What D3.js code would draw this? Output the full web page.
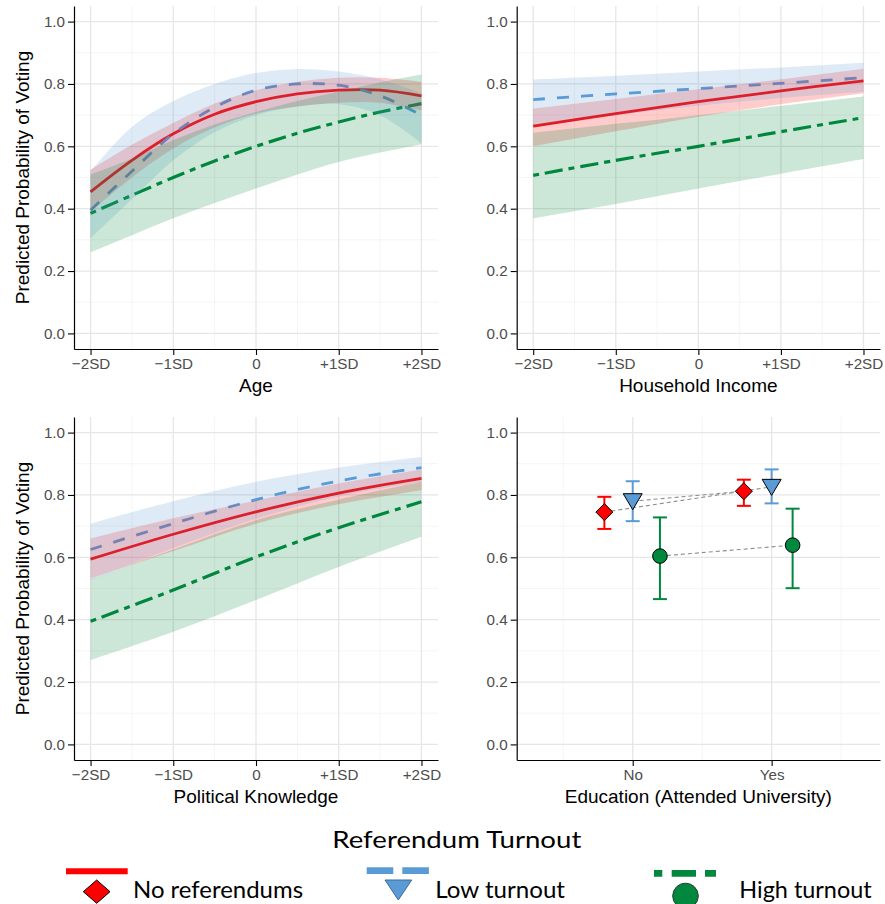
<!DOCTYPE html>
<html><head><meta charset="utf-8">
<script src="https://cdn.jsdelivr.net/npm/d3@7"></script>
<style>body{margin:0;background:#fff} svg{display:block}</style>
</head><body><svg id="c" width="885" height="904"></svg>
<script>
// ---------------- DATA ----------------
const seriesNames = ["No referendums", "Low turnout", "High turnout"];
const seriesColors = ["#FF0000", "#5B9BD5", "#00883E"];
const sdTicks = [-2, -1, 0, 1, 2];
const sdTickLabels = ["\u22122SD", "\u22121SD", "0", "+1SD", "+2SD"];
const yTicks = [0, 0.2, 0.4, 0.6, 0.8, 1.0];

// Age
const ageX = [-2, -1.5, -1, -0.5, 0, 0.5, 1, 1.5, 2];
const ageNoRef   = [0.454, 0.555, 0.640, 0.703, 0.743, 0.768, 0.780, 0.780, 0.762];
const ageNoRefLo = [0.390, 0.500, 0.593, 0.660, 0.705, 0.728, 0.740, 0.740, 0.715];
const ageNoRefHi = [0.525, 0.605, 0.675, 0.737, 0.780, 0.807, 0.820, 0.820, 0.807];
const ageLow     = [0.395, 0.520, 0.640, 0.725, 0.780, 0.800, 0.796, 0.762, 0.700];
const ageLowLo   = [0.305, 0.430, 0.555, 0.645, 0.700, 0.728, 0.735, 0.700, 0.610];
const ageLowHi   = [0.520, 0.662, 0.745, 0.800, 0.835, 0.848, 0.840, 0.815, 0.770];
const ageHigh    = [0.385, 0.443, 0.500, 0.553, 0.600, 0.642, 0.678, 0.710, 0.737];
const ageHighLo  = [0.260, 0.315, 0.369, 0.418, 0.465, 0.510, 0.550, 0.580, 0.607];
const ageHighHi  = [0.510, 0.560, 0.620, 0.670, 0.710, 0.745, 0.775, 0.805, 0.830];

// Household income
const incX = [-2, -1, 0, 1, 2];
const incNoRef   = [0.665, 0.705, 0.743, 0.778, 0.810];
const incNoRefLo = [0.600, 0.648, 0.695, 0.735, 0.770];
const incNoRefHi = [0.721, 0.752, 0.783, 0.815, 0.849];
const incLow     = [0.750, 0.768, 0.785, 0.802, 0.820];
const incLowLo   = [0.662, 0.700, 0.730, 0.755, 0.775];
const incLowHi   = [0.814, 0.826, 0.840, 0.853, 0.868];
const incHigh    = [0.507, 0.555, 0.600, 0.647, 0.692];
const incHighLo  = [0.369, 0.415, 0.465, 0.512, 0.559];
const incHighHi  = [0.643, 0.672, 0.700, 0.730, 0.760];

// Political knowledge
const knoX = [-2, -1, 0, 1, 2];
const knoNoRef   = [0.594, 0.674, 0.746, 0.806, 0.853];
const knoNoRefLo = [0.532, 0.620, 0.708, 0.770, 0.815];
const knoNoRefHi = [0.660, 0.725, 0.782, 0.837, 0.882];
const knoLow     = [0.625, 0.708, 0.785, 0.845, 0.888];
const knoLowLo   = [0.527, 0.630, 0.724, 0.795, 0.842];
const knoLowHi   = [0.708, 0.780, 0.842, 0.888, 0.922];
const knoHigh    = [0.395, 0.495, 0.601, 0.695, 0.778];
const knoHighLo  = [0.270, 0.361, 0.463, 0.569, 0.666];
const knoHighHi  = [0.529, 0.625, 0.719, 0.785, 0.842];

// Education (attended university)
const eduCategories = ["No", "Yes"];
const eduNoRefX = [0.796, 1.80],  eduNoRef = [0.745, 0.812], eduNoRefLo = [0.691, 0.765], eduNoRefHi = [0.794, 0.849];
const eduLowX   = [1.00, 2.00],   eduLow   = [0.780, 0.826], eduLowLo   = [0.716, 0.773], eduLowHi   = [0.844, 0.882];
const eduHighX  = [1.196, 2.151], eduHigh  = [0.604, 0.639], eduHighLo  = [0.466, 0.501], eduHighHi  = [0.728, 0.756];
const eduLinks = [[0, 1], [1, 0], [2, 2]]; // dashed connectors: "No" point of series a -> "Yes" point of series b

// ---------------- DRAWING ----------------
const svg = d3.select("#c");
const FONT = "'Liberation Sans', Arial, Helvetica, sans-serif";
const dashes = [null, "12,12", "6,6,18,6"];
const widths = [2.8, 2.8, 3.2];

function rows(xs, m, lo, hi) { return xs.map((x, i) => ({x, m: m[i], lo: lo[i], hi: hi[i]})); }

const panels = [
  {left: 74, right: 438, top: 6, bottom: 349, title: "Age", ylab: true, type: "line",
   series: [rows(ageX, ageNoRef, ageNoRefLo, ageNoRefHi), rows(ageX, ageLow, ageLowLo, ageLowHi), rows(ageX, ageHigh, ageHighLo, ageHighHi)]},
  {left: 516.7, right: 880, top: 6, bottom: 349, title: "Household Income", ylab: false, type: "line",
   series: [rows(incX, incNoRef, incNoRefLo, incNoRefHi), rows(incX, incLow, incLowLo, incLowHi), rows(incX, incHigh, incHighLo, incHighHi)]},
  {left: 74, right: 438, top: 417, bottom: 760, title: "Political Knowledge", ylab: true, type: "line",
   series: [rows(knoX, knoNoRef, knoNoRefLo, knoNoRefHi), rows(knoX, knoLow, knoLowLo, knoLowHi), rows(knoX, knoHigh, knoHighLo, knoHighHi)]},
  {left: 516.7, right: 880, top: 417, bottom: 760, title: "Education (Attended University)", ylab: false, type: "point",
   series: [rows(eduNoRefX, eduNoRef, eduNoRefLo, eduNoRefHi), rows(eduLowX, eduLow, eduLowLo, eduLowHi), rows(eduHighX, eduHigh, eduHighLo, eduHighHi)]}
];

panels.forEach(p => {
  const g = svg.append("g");
  const y = d3.scaleLinear().domain([-0.05, 1.05]).range([p.bottom, p.top]);
  let x, xMajor, xMinor, xLabels;
  if (p.type === "line") {
    x = d3.scaleLinear().domain([-2.2, 2.2]).range([p.left, p.right]);
    xMajor = sdTicks; xMinor = [-1.5, -0.5, 0.5, 1.5]; xLabels = sdTickLabels;
  } else {
    x = d3.scaleLinear().domain([0.165, 2.78]).range([p.left, p.right]);
    xMajor = [1, 2]; xMinor = [0.5, 1.5, 2.5]; xLabels = eduCategories;
  }
  const yMinor = [0.1, 0.3, 0.5, 0.7, 0.9];
  // grid
  const grid = g.append("g");
  grid.selectAll(".ymn").data(yMinor).join("line").attr("x1", p.left).attr("x2", p.right)
    .attr("y1", d => y(d)).attr("y2", d => y(d)).attr("stroke", "#f2f2f2").attr("stroke-width", 0.8);
  grid.selectAll(".xmn").data(xMinor).join("line").attr("y1", p.top).attr("y2", p.bottom)
    .attr("x1", d => x(d)).attr("x2", d => x(d)).attr("stroke", "#f2f2f2").attr("stroke-width", 0.8);
  grid.selectAll(".ymj").data(yTicks).join("line").attr("x1", p.left).attr("x2", p.right)
    .attr("y1", d => y(d)).attr("y2", d => y(d)).attr("stroke", "#e6e6e6").attr("stroke-width", 1.3);
  grid.selectAll(".xmj").data(xMajor).join("line").attr("y1", p.top).attr("y2", p.bottom)
    .attr("x1", d => x(d)).attr("x2", d => x(d)).attr("stroke", "#e6e6e6").attr("stroke-width", 1.3);

  if (p.type === "line") {
    const line = d3.line().x(d => x(d.x)).y(d => y(d.m)).curve(d3.curveCatmullRom.alpha(0.5));
    const area = d3.area().x(d => x(d.x)).y0(d => y(d.lo)).y1(d => y(d.hi)).curve(d3.curveCatmullRom.alpha(0.5));
    // lines first (ribbons drawn on top, as in reference)
    p.series.forEach((s, i) => {
      g.append("path").datum(s).attr("d", line).attr("fill", "none")
        .attr("stroke", seriesColors[i]).attr("stroke-width", widths[i])
        .attr("stroke-dasharray", dashes[i]);
    });
    p.series.forEach((s, i) => {
      g.append("path").datum(s).attr("d", area).attr("fill", seriesColors[i]).attr("fill-opacity", 0.2);
    });
  } else {
    // connectors
    eduLinks.forEach(([a, b]) => {
      const A = p.series[a][0], B = p.series[b][1];
      g.append("line").attr("x1", x(A.x)).attr("y1", y(A.m)).attr("x2", x(B.x)).attr("y2", y(B.m))
        .attr("stroke", "#8c8c8c").attr("stroke-width", 1.1).attr("stroke-dasharray", "4,3");
    });
    p.series.forEach((s, i) => {
      const c = seriesColors[i];
      const eg = g.append("g");
      eg.selectAll(".v").data(s).join("line").attr("x1", d => x(d.x)).attr("x2", d => x(d.x))
        .attr("y1", d => y(d.lo)).attr("y2", d => y(d.hi)).attr("stroke", c).attr("stroke-width", 2);
      eg.selectAll(".t").data(s).join("line").attr("x1", d => x(d.x) - 7).attr("x2", d => x(d.x) + 7)
        .attr("y1", d => y(d.hi)).attr("y2", d => y(d.hi)).attr("stroke", c).attr("stroke-width", 2);
      eg.selectAll(".b").data(s).join("line").attr("x1", d => x(d.x) - 7).attr("x2", d => x(d.x) + 7)
        .attr("y1", d => y(d.lo)).attr("y2", d => y(d.lo)).attr("stroke", c).attr("stroke-width", 2);
    });
    p.series.forEach((s, i) => {
      const c = seriesColors[i];
      s.forEach(d => {
        const cx = x(d.x), cy = y(d.m);
        if (i === 0) {
          g.append("path").attr("d", `M${cx},${cy-8.5}L${cx+8.5},${cy}L${cx},${cy+8.5}L${cx-8.5},${cy}Z`)
            .attr("fill", c).attr("stroke", "#000").attr("stroke-width", 1);
        } else if (i === 1) {
          g.append("path").attr("d", `M${cx-9.5},${cy-7.5}L${cx+9.5},${cy-7.5}L${cx},${cy+8.5}Z`)
            .attr("fill", c).attr("stroke", "#000").attr("stroke-width", 1);
        } else {
          g.append("circle").attr("cx", cx).attr("cy", cy).attr("r", 7.3)
            .attr("fill", c).attr("stroke", "#000").attr("stroke-width", 1);
        }
      });
    });
  }

  // axes
  const ya = g.append("g").attr("transform", `translate(${p.left},0)`)
    .call(d3.axisLeft(y).tickValues(yTicks).tickFormat(d3.format(".1f")).tickSize(6).tickSizeOuter(0).tickPadding(3));
  const xa = g.append("g").attr("transform", `translate(0,${p.bottom})`)
    .call(d3.axisBottom(x).tickValues(xMajor).tickFormat((d, i) => xLabels[i]).tickSize(6).tickSizeOuter(0).tickPadding(3));
  [ya, xa].forEach(a => {
    a.select(".domain").attr("stroke", "#000").attr("stroke-width", 1.2);
    a.selectAll(".tick line").attr("stroke", "#000").attr("stroke-width", 1.1);
    a.selectAll("text").attr("fill", "#4D4D4D").style("font-family", FONT).style("font-size", "15.2px");
  });

  g.append("text").attr("x", (p.left + p.right) / 2).attr("y", p.bottom + 42.5)
    .attr("text-anchor", "middle").style("font-family", FONT).style("font-size", "19px").attr("fill", "#000")
    .text(p.title);
  if (p.ylab) {
    g.append("text").attr("transform", `translate(29.3,${(p.top + p.bottom) / 2}) rotate(-90)`)
      .attr("text-anchor", "middle").style("font-family", FONT).style("font-size", "19px").attr("fill", "#000")
      .text("Predicted Probability of Voting");
  }
});

// ---------------- LEGEND ----------------
const LFONT = "Lato, 'Open Sans', sans-serif";
const lg = svg.append("g");
lg.append("text").attr("x", 332.3).attr("y", 848.3).attr("textLength", 249).attr("lengthAdjust", "spacingAndGlyphs")
  .style("font-family", LFONT).style("font-size", "23.5px").attr("fill", "#000").text("Referendum Turnout");

// red key
lg.append("line").attr("x1", 66).attr("x2", 127.7).attr("y1", 871.3).attr("y2", 871.3)
  .attr("stroke", seriesColors[0]).attr("stroke-width", 6);
lg.append("path").attr("d", "M96.7,880L110,891.7L96.7,903.3L83.3,891.7Z").attr("fill", seriesColors[0])
  .attr("stroke", "#000").attr("stroke-width", 1);
lg.append("text").attr("x", 133).attr("y", 898.3).attr("textLength", 170).attr("lengthAdjust", "spacingAndGlyphs")
  .style("font-family", LFONT).style("font-size", "23.5px").attr("fill", "#000").text(seriesNames[0]);

// blue key
lg.append("line").attr("x1", 366.7).attr("x2", 429).attr("y1", 870.7).attr("y2", 870.7)
  .attr("stroke", seriesColors[1]).attr("stroke-width", 6.7).attr("stroke-dasharray", "26.6,9");
lg.append("path").attr("d", "M385,880L411.7,880L398.3,900Z").attr("fill", seriesColors[1])
  .attr("stroke", "#3b6a96").attr("stroke-width", 1);
lg.append("text").attr("x", 435.3).attr("y", 898.3).attr("textLength", 129.7).attr("lengthAdjust", "spacingAndGlyphs")
  .style("font-family", LFONT).style("font-size", "23.5px").attr("fill", "#000").text(seriesNames[1]);

// green key
lg.append("line").attr("x1", 654).attr("x2", 716).attr("y1", 873.3).attr("y2", 873.3)
  .attr("stroke", seriesColors[2]).attr("stroke-width", 6.7).attr("stroke-dasharray", "8.3,9.4,24.3,9,11");
lg.append("circle").attr("cx", 685.5).attr("cy", 896).attr("r", 12.8).attr("fill", seriesColors[2])
  .attr("stroke", "#1f3f2a").attr("stroke-width", 1);
lg.append("text").attr("x", 739.3).attr("y", 898.3).attr("textLength", 132.4).attr("lengthAdjust", "spacingAndGlyphs")
  .style("font-family", LFONT).style("font-size", "23.5px").attr("fill", "#000").text(seriesNames[2]);
</script>
</body></html>
